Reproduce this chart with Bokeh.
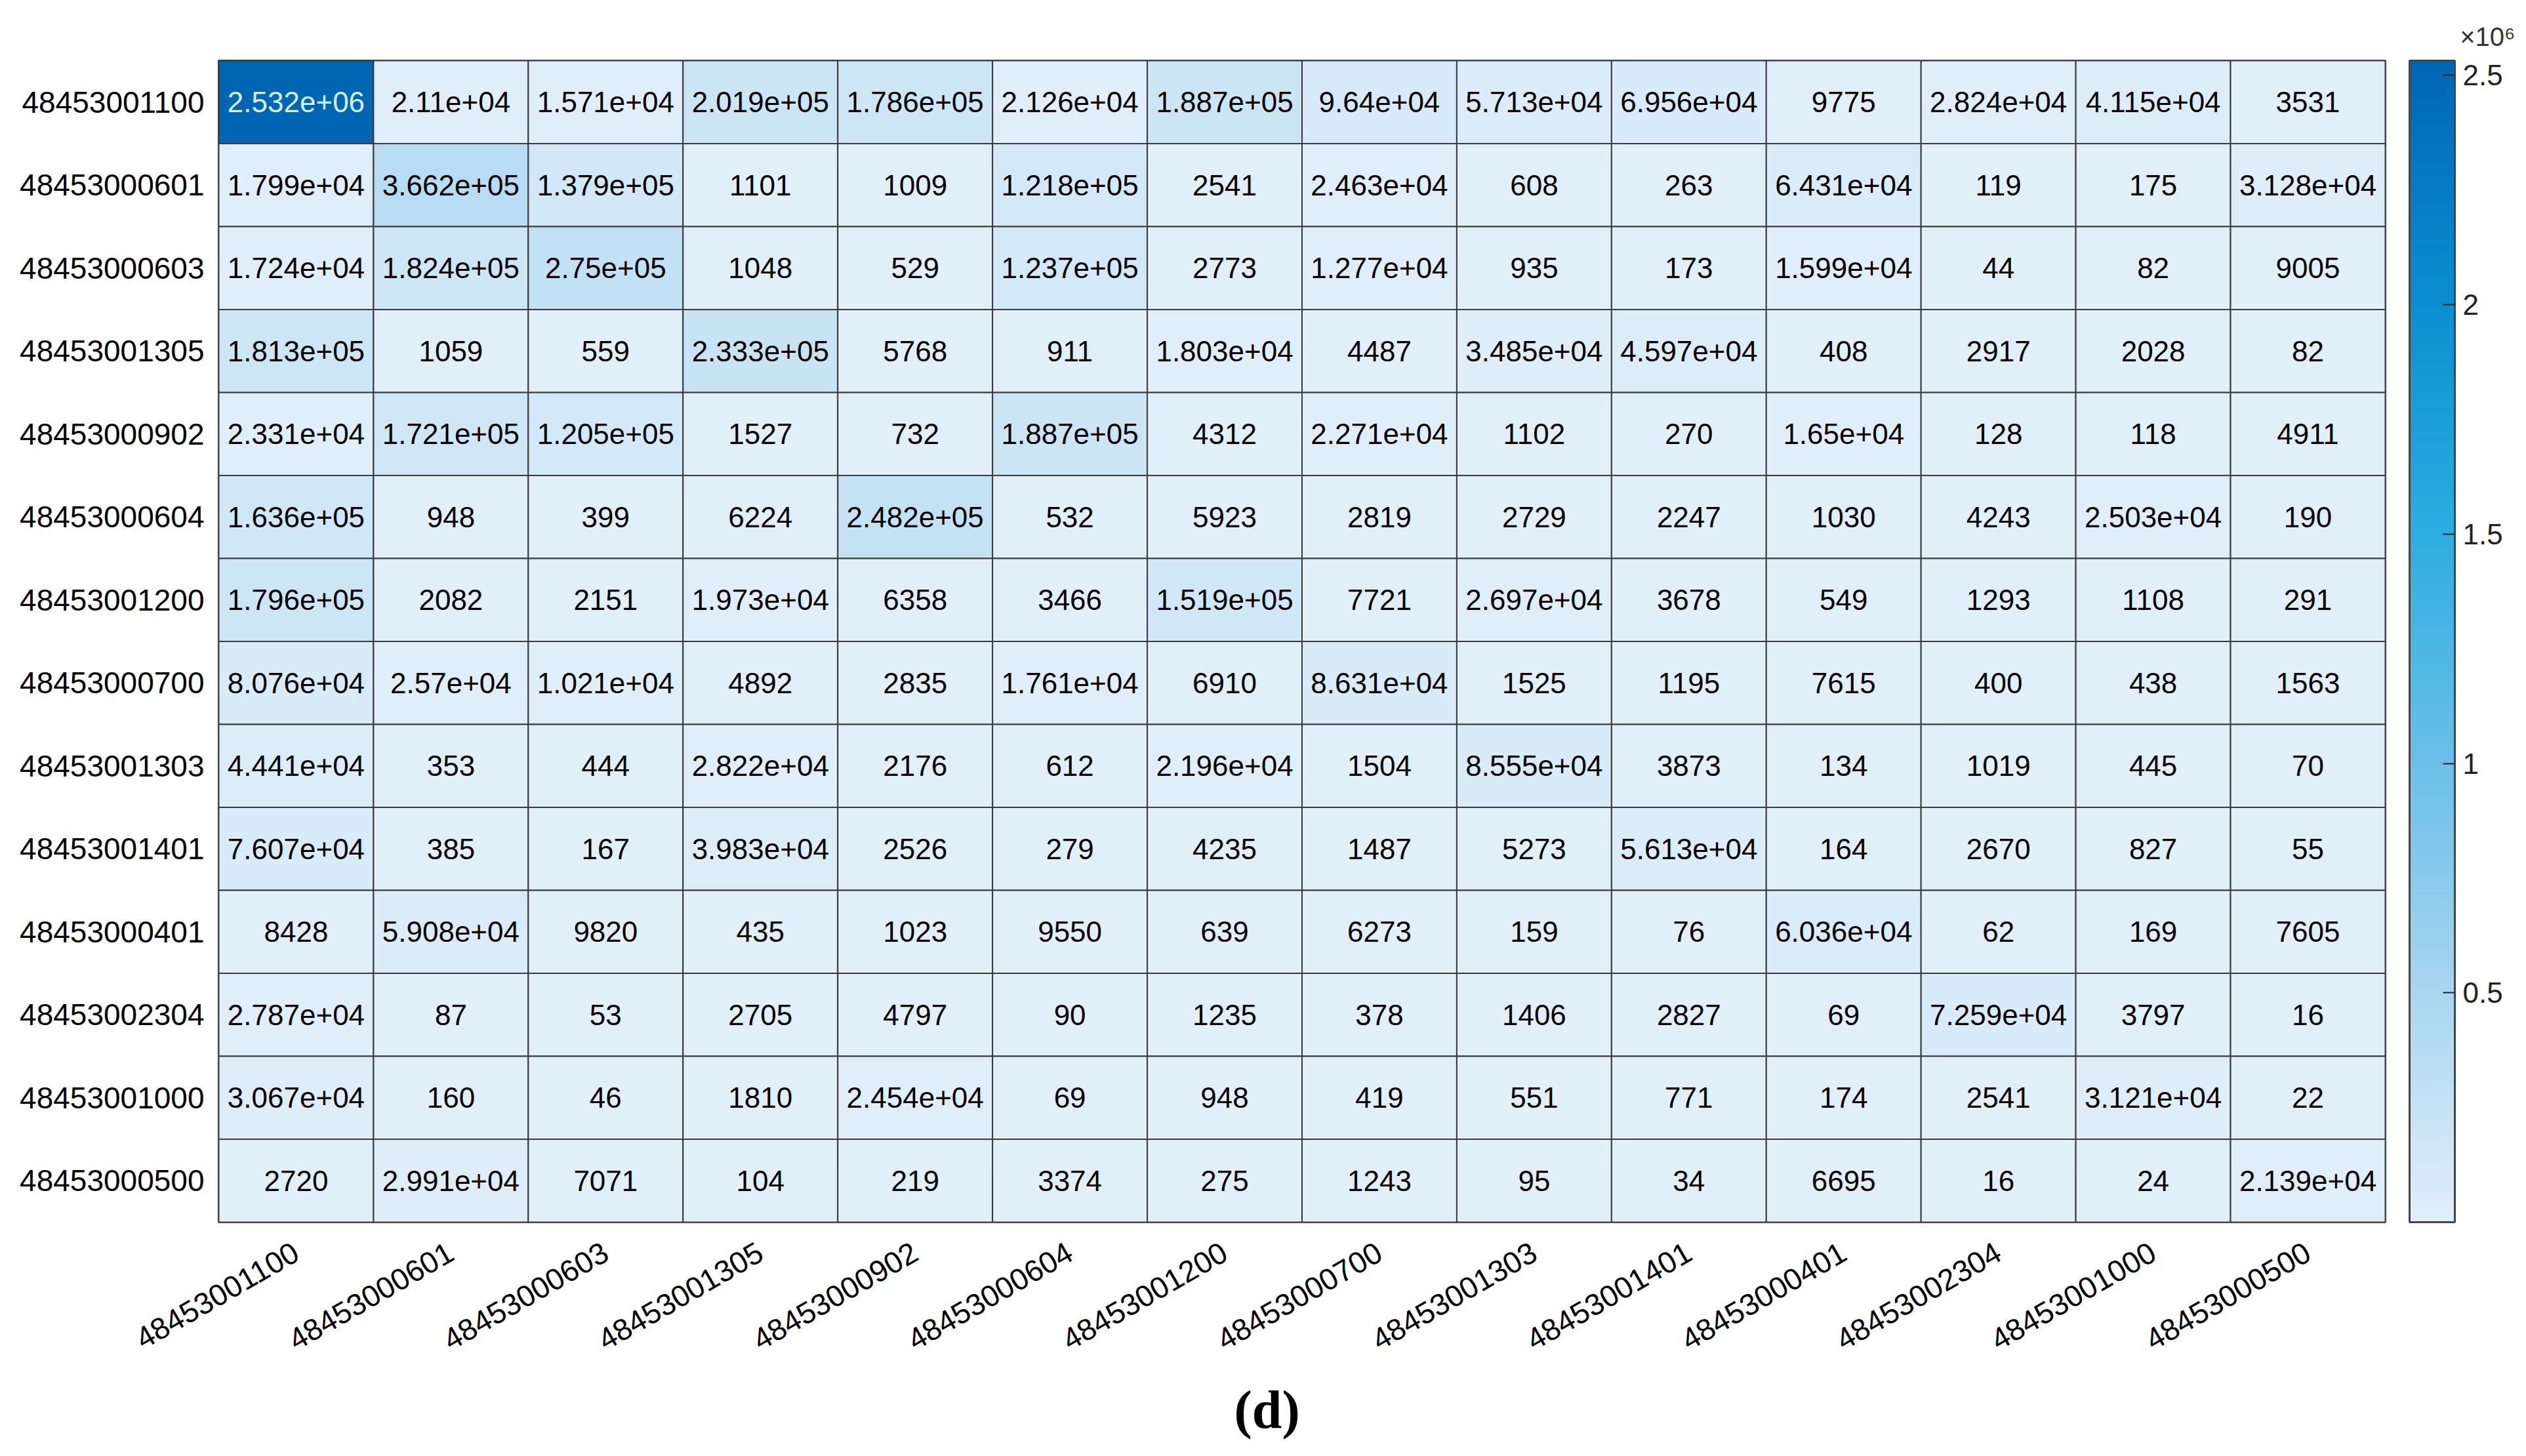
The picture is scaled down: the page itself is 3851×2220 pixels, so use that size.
import math
from bokeh.plotting import figure
from bokeh.models import (ColumnDataSource, LinearColorMapper, ColorBar, FixedTicker,
                          CustomJSTickFormatter, Title, FactorRange)
from bokeh.core.properties import value
from bokeh.embed import file_html
from bokeh.resources import INLINE

# ---------------- data ----------------
tracts = ["48453001100", "48453000601", "48453000603", "48453001305", "48453000902",
          "48453000604", "48453001200", "48453000700", "48453001303", "48453001401",
          "48453000401", "48453002304", "48453001000", "48453000500"]

row_48453001100 = [2.532e6, 2.11e4, 1.571e4, 2.019e5, 1.786e5, 2.126e4, 1.887e5, 9.64e4, 5.713e4, 6.956e4, 9775, 2.824e4, 4.115e4, 3531]
row_48453000601 = [1.799e4, 3.662e5, 1.379e5, 1101, 1009, 1.218e5, 2541, 2.463e4, 608, 263, 6.431e4, 119, 175, 3.128e4]
row_48453000603 = [1.724e4, 1.824e5, 2.75e5, 1048, 529, 1.237e5, 2773, 1.277e4, 935, 173, 1.599e4, 44, 82, 9005]
row_48453001305 = [1.813e5, 1059, 559, 2.333e5, 5768, 911, 1.803e4, 4487, 3.485e4, 4.597e4, 408, 2917, 2028, 82]
row_48453000902 = [2.331e4, 1.721e5, 1.205e5, 1527, 732, 1.887e5, 4312, 2.271e4, 1102, 270, 1.65e4, 128, 118, 4911]
row_48453000604 = [1.636e5, 948, 399, 6224, 2.482e5, 532, 5923, 2819, 2729, 2247, 1030, 4243, 2.503e4, 190]
row_48453001200 = [1.796e5, 2082, 2151, 1.973e4, 6358, 3466, 1.519e5, 7721, 2.697e4, 3678, 549, 1293, 1108, 291]
row_48453000700 = [8.076e4, 2.57e4, 1.021e4, 4892, 2835, 1.761e4, 6910, 8.631e4, 1525, 1195, 7615, 400, 438, 1563]
row_48453001303 = [4.441e4, 353, 444, 2.822e4, 2176, 612, 2.196e4, 1504, 8.555e4, 3873, 134, 1019, 445, 70]
row_48453001401 = [7.607e4, 385, 167, 3.983e4, 2526, 279, 4235, 1487, 5273, 5.613e4, 164, 2670, 827, 55]
row_48453000401 = [8428, 5.908e4, 9820, 435, 1023, 9550, 639, 6273, 159, 76, 6.036e4, 62, 169, 7605]
row_48453002304 = [2.787e4, 87, 53, 2705, 4797, 90, 1235, 378, 1406, 2827, 69, 7.259e4, 3797, 16]
row_48453001000 = [3.067e4, 160, 46, 1810, 2.454e4, 69, 948, 419, 551, 771, 174, 2541, 3.121e4, 22]
row_48453000500 = [2720, 2.991e4, 7071, 104, 219, 3374, 275, 1243, 95, 34, 6695, 16, 24, 2.139e4]

matrix = [row_48453001100, row_48453000601, row_48453000603, row_48453001305,
          row_48453000902, row_48453000604, row_48453001200, row_48453000700,
          row_48453001303, row_48453001401, row_48453000401, row_48453002304,
          row_48453001000, row_48453000500]

colorbar_ticks = [0.5e6, 1.0e6, 1.5e6, 2.0e6, 2.5e6]

# ---------------- palette ----------------
anchors = [(0.0, (225, 239, 249)), (0.2, (168, 213, 239)), (0.4, (106, 191, 232)),
           (0.6, (44, 172, 223)), (0.8, (10, 141, 207)), (1.0, (0, 102, 179))]
palette = []
for k in range(256):
    t = k / 255
    for (t0, c0), (t1, c1) in zip(anchors[:-1], anchors[1:]):
        if t0 <= t <= t1:
            f = (t - t0) / (t1 - t0)
            c = tuple(int(round(a + (b - a) * f)) for a, b in zip(c0, c1))
            palette.append("#%02x%02x%02x" % c)
            break

vmin = min(min(r) for r in matrix)
vmax = max(max(r) for r in matrix)
mapper = LinearColorMapper(palette=palette, low=vmin, high=vmax)

xs, ys, vs, labels, tcolors = [], [], [], [], []
for i, r in enumerate(tracts):
    for j, c in enumerate(tracts):
        v = matrix[i][j]
        xs.append(c)
        ys.append(r)
        vs.append(v)
        labels.append(format(v, ".4g"))
        tcolors.append("#d2f3ff" if v > 0.6 * vmax else "#000000")
src = ColumnDataSource(dict(x=xs, y=ys, v=vs, label=labels, tc=tcolors))

W, H = 3843, 2220
BL, BR, BT, BB = 333, 207, 92, 357
p = figure(width=W, height=H, x_range=FactorRange(*tracts),
           y_range=FactorRange(*list(reversed(tracts))),
           output_backend="svg", toolbar_location=None,
           min_border_left=BL, min_border_right=BR, min_border_top=BT, min_border_bottom=BB)
p.rect(x="x", y="y", width=1, height=1, source=src,
       fill_color={"field": "v", "transform": mapper},
       line_color="#3a3a3a", line_width=2)
p.text(x="x", y="y", text="label", source=src, text_color="tc",
       text_align="center", text_baseline="middle",
       text_font=value("Liberation Sans"), text_font_size="44px")

p.grid.visible = False
p.outline_line_color = "#3a3a3a"
p.outline_line_width = 3
p.background_fill_color = "white"

for ax in (p.xaxis, p.yaxis):
    ax.axis_line_color = None
    ax.major_tick_line_color = None
    ax.minor_tick_line_color = None
    ax.major_label_text_font = "Liberation Sans"
    ax.major_label_text_font_size = "46px"
    ax.major_label_text_color = "#000000"
p.yaxis.major_label_standoff = 16
p.xaxis.major_label_standoff = 36
p.xaxis.major_label_orientation = math.pi / 6

fw = W - BL - BR
fh = H - BT - BB
cb = ColorBar(color_mapper=mapper, location=(fw + 37, 0), width=69, height=fh,
              padding=0, margin=0,
              ticker=FixedTicker(ticks=colorbar_ticks),
              formatter=CustomJSTickFormatter(code="return (tick/1e6).toString()"),
              major_tick_in=18, major_tick_out=0, major_tick_line_color="#222222",
              major_tick_line_width=2,
              bar_line_color="#444444", bar_line_width=3,
              label_standoff=12, major_label_text_font="Liberation Sans",
              major_label_text_font_size="44px", major_label_text_color="#222222",
              background_fill_color=None, border_line_color=None)
p.add_layout(cb, "center")

top_title = Title(text="×10⁶", align="right", offset=-198, standoff=29,
                  text_font="Liberation Sans", text_font_size="40px",
                  text_font_style="normal", text_color="#333333")
p.add_layout(top_title, "above")

bottom_title = Title(text="(d)", align="left", offset=1548, standoff=50,
                     text_font="Liberation Serif", text_font_style="bold",
                     text_font_size="82px", text_color="#000000")
p.add_layout(bottom_title, "below")

open("out.html", "w").write(file_html(p, INLINE))
